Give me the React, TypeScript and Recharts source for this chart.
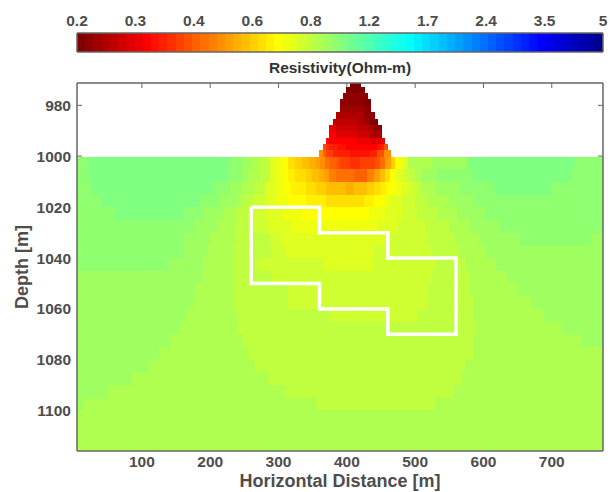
import { ComposedChart, Line, ReferenceArea, XAxis, YAxis } from 'recharts'

const X_TICKS = [100, 200, 300, 400, 500, 600, 700]
const DEPTH_TICKS = [980, 1000, 1020, 1040, 1060, 1080, 1100]
const AIR_DEPTH_TICKS = [980, 1000]
const COLORBAR_LABELS = ['0.2', '0.3', '0.4', '0.6', '0.8', '1.2', '1.7', '2.4', '3.5', '5']

// row boundaries of the model mesh, air cells are 2.5 m and ground cells 5 m
const DEPTH_EDGES = [
  971, 972.5, 975, 977.5, 980, 982.5, 985, 987.5, 990, 992.5, 995, 997.5, 1000,
  1005, 1010, 1015, 1020, 1025, 1030, 1035, 1040, 1045, 1050, 1055, 1060, 1065,
  1070, 1075, 1080, 1085, 1090, 1095, 1100, 1105, 1110, 1116,
]

const ROW_STARTS = [
  405, 399, 394, 390, 390, 384, 380, 374, 374, 369, 365, 359,
  5, 5, 5, 5, 5, 5, 5, 5, 5, 5, 5, 5, 5, 5, 5, 5, 5, 5, 5, 5, 5, 5, 5,
]

// each row is a list of [x where the run ends, resistivity]
const RESISTIVITY_ROWS: number[][][] = [
  [[421, 0.205]],
  [[427, 0.205]],
  [[431, 0.216]],
  [[426, 0.216], [435, 0.205]],
  [[425, 0.227], [435, 0.216]],
  [[425, 0.238], [441, 0.216]],
  [[415, 0.251], [425, 0.238], [434, 0.227], [446, 0.205]],
  [[384, 0.292], [415, 0.264], [430, 0.251], [440, 0.238], [451, 0.216]],
  [[384, 0.307], [415, 0.277], [434, 0.264], [451, 0.238]],
  [[374, 0.323], [415, 0.307], [435, 0.292], [450, 0.277], [456, 0.292]],
  [[369, 0.395], [374, 0.357], [385, 0.339], [399, 0.323], [444, 0.307], [450, 0.323], [454, 0.339], [460, 0.395]],
  [[365, 0.48], [369, 0.415], [380, 0.375], [405, 0.339], [434, 0.323], [444, 0.339], [454, 0.395], [465, 0.48]],
  [[20.6, 0.98], [229, 1.03], [246, 0.98], [261, 0.93], [273, 0.88], [287, 0.84], [295, 0.76], [306, 0.72], [314, 0.69], [324, 0.62], [334, 0.59], [345, 0.56], [355, 0.53], [361, 0.51], [368, 0.48], [376, 0.44], [385, 0.415], [390, 0.395], [405, 0.375], [419, 0.35], [441, 0.375], [449, 0.395], [456, 0.44], [464, 0.51], [470, 0.59], [476, 0.69], [483, 0.72], [490, 0.76], [524, 0.88], [576, 0.93], [734, 1.03], [775, 0.98]],
  [[20, 0.98], [224, 1.03], [246, 0.98], [256, 0.93], [273, 0.88], [287, 0.84], [295, 0.76], [306, 0.72], [314, 0.69], [324, 0.65], [340, 0.62], [349, 0.59], [359, 0.56], [366, 0.53], [374, 0.51], [384, 0.46], [410, 0.44], [430, 0.415], [440, 0.46], [449, 0.51], [456, 0.56], [463, 0.62], [469, 0.69], [475, 0.72], [484, 0.76], [493, 0.8], [500, 0.84], [508, 0.88], [534, 0.93], [585, 0.98], [730, 1.03], [775, 0.98]],
  [[25, 0.98], [205, 1.03], [229, 0.98], [246, 0.93], [263, 0.88], [280, 0.84], [295, 0.76], [306, 0.72], [319, 0.69], [340, 0.65], [355, 0.62], [370, 0.59], [399, 0.56], [410, 0.53], [429, 0.56], [440, 0.59], [450, 0.62], [459, 0.65], [472, 0.69], [481, 0.72], [493, 0.76], [503, 0.8], [510, 0.84], [529, 0.88], [565, 0.93], [615, 0.98], [699, 1.03], [775, 0.98]],
  [[40, 0.98], [185, 1.03], [214, 0.98], [239, 0.93], [250, 0.88], [264, 0.84], [280, 0.8], [295, 0.76], [314, 0.72], [340, 0.69], [370, 0.65], [425, 0.62], [440, 0.65], [454, 0.69], [463, 0.72], [481, 0.76], [500, 0.8], [518, 0.84], [550, 0.88], [585, 0.93], [775, 0.98]],
  [[60, 0.98], [160, 1.03], [190, 0.98], [219, 0.93], [239, 0.88], [258, 0.84], [280, 0.8], [305, 0.76], [334, 0.72], [434, 0.69], [458, 0.72], [482, 0.76], [503, 0.8], [534, 0.84], [563, 0.88], [604, 0.93], [775, 0.98]],
  [[175, 0.98], [210, 0.93], [236, 0.88], [262, 0.84], [285, 0.8], [319, 0.76], [445, 0.72], [475, 0.76], [514, 0.8], [550, 0.84], [579, 0.88], [624, 0.93], [775, 0.98]],
  [[160, 0.98], [200, 0.93], [236, 0.88], [288, 0.84], [300, 0.8], [463, 0.76], [518, 0.8], [559, 0.84], [594, 0.88], [653, 0.93], [758, 0.98], [775, 0.93]],
  [[160, 0.98], [197, 0.93], [234, 0.88], [290, 0.84], [310, 0.8], [440, 0.76], [524, 0.8], [564, 0.84], [604, 0.88], [775, 0.93]],
  [[139, 0.98], [190, 0.93], [234, 0.88], [269, 0.84], [366, 0.8], [440, 0.76], [529, 0.8], [573, 0.84], [619, 0.88], [775, 0.93]],
  [[190, 0.93], [234, 0.88], [290, 0.84], [524, 0.8], [579, 0.84], [635, 0.88], [775, 0.93]],
  [[178, 0.93], [234, 0.88], [314, 0.84], [519, 0.8], [579, 0.84], [650, 0.88], [775, 0.93]],
  [[175, 0.93], [234, 0.88], [314, 0.84], [518, 0.8], [585, 0.84], [669, 0.88], [775, 0.93]],
  [[165, 0.93], [239, 0.88], [374, 0.84], [503, 0.8], [585, 0.84], [688, 0.88], [775, 0.93]],
  [[155, 0.93], [241, 0.88], [589, 0.84], [715, 0.88], [775, 0.93]],
  [[140, 0.93], [248, 0.88], [585, 0.84], [744, 0.88], [775, 0.93]],
  [[125, 0.93], [256, 0.88], [585, 0.84], [775, 0.88]],
  [[111, 0.93], [265, 0.88], [573, 0.84], [775, 0.88]],
  [[85, 0.93], [284, 0.88], [568, 0.84], [775, 0.88]],
  [[50, 0.93], [310, 0.88], [555, 0.84], [775, 0.88]],
  [[15, 0.93], [355, 0.88], [530, 0.84], [775, 0.88]],
  [[775, 0.88]],
  [[775, 0.88]],
  [[775, 0.88]],
]

const BLOCK_X = [260, 360, 360, 460, 460, 560, 560, 460, 460, 360, 360, 260, 260]
const BLOCK_DEPTH = [1020, 1020, 1030, 1030, 1040, 1040, 1070, 1070, 1060, 1060, 1050, 1050, 1020]
const blockOutline = BLOCK_X.map((x, i) => ({ x, depth: BLOCK_DEPTH[i] }))

const LEVELS = 64
const FONT = '"Liberation Sans", Arial, sans-serif'
const TEXT_COLOR = '#4d4d4d'
const AXIS_COLOR = '#666666'
const axisLine = { stroke: AXIS_COLOR, strokeWidth: 1.5 }
const tickText = { fontFamily: FONT, fontWeight: 700, fontSize: 15.5, fill: TEXT_COLOR }
const labelText = { fontFamily: FONT, fontWeight: 700, fontSize: 18, fill: TEXT_COLOR }

// plot box of both charts, only used for the small inward tick stubs
const PLOT_LEFT = 77
const PLOT_RIGHT = 603
const PLOT_TOP = 83
const PLOT_BOTTOM = 451
const BAR_TOP = 33
const stubX = (v: number) => PLOT_LEFT + ((v - 5) / 770) * (PLOT_RIGHT - PLOT_LEFT)
const stubY = (d: number) => PLOT_TOP + ((d - 971) / 145) * (PLOT_BOTTOM - PLOT_TOP)

const clamp = (v: number) => Math.max(0, Math.min(1, v))

// flipped jet map, level 0 is dark red
function levelColor(level: number) {
  const t = 1 - level / LEVELS
  const part = (c: number) => Math.round(clamp(1.5 - Math.abs(4 * t - c)) * 255)
  return `rgb(${part(3)},${part(2)},${part(1)})`
}

function resistivityColor(value: number) {
  const level = Math.floor((Math.log(value / 0.2) / Math.log(25)) * LEVELS)
  return levelColor(Math.max(0, Math.min(LEVELS - 1, level)))
}

const colorbarLevels = Array.from({ length: LEVELS }, (_, i) => i)
const colorbarTicks = COLORBAR_LABELS.map((_, i) => (i * LEVELS) / (COLORBAR_LABELS.length - 1))
const colorbarExtent = [{ level: 0, y: 0 }, { level: LEVELS, y: 1 }]

function Colorbar() {
  return (
    <ComposedChart
      width={610}
      height={60}
      margin={{ top: 32, right: 6, bottom: 7, left: 76 }}
      style={{ position: 'absolute', left: 0, top: 0 }}
    >
      <XAxis
        xAxisId="top"
        dataKey="level"
        orientation="top"
        type="number"
        domain={[0, LEVELS]}
        ticks={colorbarTicks}
        height={1}
        interval={0}
        axisLine={axisLine}
        tickLine={false}
        tickSize={0}
        tickMargin={7}
        tick={tickText}
        tickFormatter={(_, i) => COLORBAR_LABELS[i]}
      />
      <XAxis
        xAxisId="bottom"
        dataKey="level"
        type="number"
        domain={[0, LEVELS]}
        height={1}
        axisLine={axisLine}
        tickLine={false}
        tick={false}
      />
      <YAxis yAxisId="left" dataKey="y" type="number" domain={[0, 1]} width={1} tick={false} tickLine={false} axisLine={axisLine} />
      <YAxis yAxisId="right" dataKey="y" orientation="right" type="number" domain={[0, 1]} width={1} tick={false} tickLine={false} axisLine={axisLine} />
      {colorbarLevels.map((k) => (
        <ReferenceArea
          key={k}
          xAxisId="top"
          yAxisId="left"
          x1={k}
          x2={k + 1}
          y1={0}
          y2={1}
          fill={levelColor(k)}
          fillOpacity={1}
          stroke="none"
          shapeRendering="crispEdges"
        />
      ))}
      <Line xAxisId="top" yAxisId="left" data={colorbarExtent} dataKey="y" stroke="none" dot={false} isAnimationActive={false} />
      <Line xAxisId="bottom" yAxisId="right" data={colorbarExtent} dataKey="y" stroke="none" dot={false} isAnimationActive={false} />
      {colorbarTicks.slice(1, -1).map((v) => {
        const x = PLOT_LEFT + (v / LEVELS) * (PLOT_RIGHT - PLOT_LEFT)
        return <line key={v} x1={x} x2={x} y1={BAR_TOP} y2={BAR_TOP + 4} stroke="#444444" />
      })}
    </ComposedChart>
  )
}

function ResistivitySection() {
  return (
    <ComposedChart
      width={610}
      height={492}
      margin={{ top: 82, right: 6, bottom: 0, left: 0 }}
      style={{ position: 'absolute', left: 0, top: 0 }}
    >
      <XAxis
        xAxisId="bottom"
        dataKey="x"
        type="number"
        domain={[5, 775]}
        ticks={X_TICKS}
        height={41}
        interval={0}
        axisLine={axisLine}
        tickLine={false}
        tickSize={0}
        tickMargin={5}
        tick={tickText}
        label={{ value: 'Horizontal Distance [m]', position: 'insideBottom', offset: 5, ...labelText }}
      />
      <XAxis
        xAxisId="top"
        dataKey="x"
        orientation="top"
        type="number"
        domain={[5, 775]}
        height={1}
        axisLine={axisLine}
        tickLine={false}
        tick={false}
      />
      <YAxis
        yAxisId="left"
        dataKey="depth"
        type="number"
        reversed
        domain={[971, 1116]}
        ticks={DEPTH_TICKS}
        width={77}
        interval={0}
        axisLine={axisLine}
        tickLine={false}
        tickSize={0}
        tickMargin={6}
        tick={tickText}
        label={{ value: 'Depth [m]', angle: -90, position: 'insideLeft', offset: 22, textAnchor: 'middle', ...labelText }}
      />
      <YAxis
        yAxisId="right"
        dataKey="depth"
        orientation="right"
        type="number"
        reversed
        domain={[971, 1116]}
        width={1}
        axisLine={axisLine}
        tickLine={false}
        tick={false}
      />
      {RESISTIVITY_ROWS.flatMap((runs, row) =>
        runs.map(([end, value], i) => (
          <ReferenceArea
            key={`${row}-${i}`}
            xAxisId="bottom"
            yAxisId="left"
            x1={i === 0 ? ROW_STARTS[row] : runs[i - 1][0]}
            x2={end}
            y1={DEPTH_EDGES[row]}
            y2={DEPTH_EDGES[row + 1]}
            fill={resistivityColor(value)}
            fillOpacity={1}
            stroke="none"
            shapeRendering="crispEdges"
          />
        )),
      )}
      <Line xAxisId="top" yAxisId="right" data={blockOutline} dataKey="depth" stroke="none" dot={false} isAnimationActive={false} />
      <Line
        xAxisId="bottom"
        yAxisId="left"
        data={blockOutline}
        dataKey="depth"
        stroke="#ffffff"
        strokeWidth={3.5}
        dot={false}
        isAnimationActive={false}
      />
      {/* inward ticks only show over the air, the heat map covers the rest */}
      {X_TICKS.map((v) => (
        <line key={v} x1={stubX(v)} x2={stubX(v)} y1={PLOT_TOP} y2={PLOT_TOP + 5} stroke={AXIS_COLOR} />
      ))}
      {AIR_DEPTH_TICKS.flatMap((d) => [
        <line key={`l${d}`} x1={PLOT_LEFT} x2={PLOT_LEFT + 5} y1={stubY(d) - 0.5} y2={stubY(d) - 0.5} stroke={AXIS_COLOR} />,
        <line key={`r${d}`} x1={PLOT_RIGHT - 5} x2={PLOT_RIGHT} y1={stubY(d) - 0.5} y2={stubY(d) - 0.5} stroke={AXIS_COLOR} />,
      ])}
      <text x={340} y={73} textAnchor="middle" fontFamily={FONT} fontWeight={700} fontSize={15.5} fill="#333333">
        Resistivity(Ohm-m)
      </text>
    </ComposedChart>
  )
}

export default function App() {
  return (
    <div style={{ position: 'absolute', left: 0, top: 0, width: 610, height: 492, background: '#fff' }}>
      <ResistivitySection />
      <Colorbar />
    </div>
  )
}
